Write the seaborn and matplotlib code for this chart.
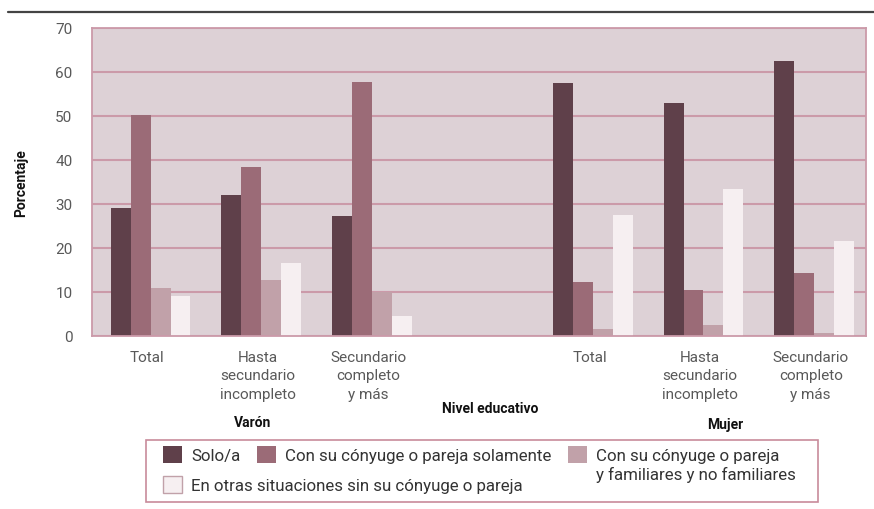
import matplotlib
matplotlib.use("Agg")
import matplotlib.pyplot as plt
import pandas as pd
import seaborn as sns
from matplotlib.lines import Line2D
from matplotlib.patches import Rectangle, Patch

# categorías del eje x (hay un hueco entre Varón y Mujer)
grupos = ["V_Total", "V_Hasta", "V_Sec", "hueco", "M_Total", "M_Hasta", "M_Sec"]
grupos_datos = ["V_Total", "V_Hasta", "V_Sec", "M_Total", "M_Hasta", "M_Sec"]
etiquetas = ["Total", "Hasta\nsecundario\nincompleto", "Secundario\ncompleto\ny más", "",
             "Total", "Hasta\nsecundario\nincompleto", "Secundario\ncompleto\ny más"]

series = ["Solo/a",
          "Con su cónyuge o pareja solamente",
          "Con su cónyuge o pareja y familiares y no familiares",
          "En otras situaciones sin su cónyuge o pareja"]

solo = [29.1, 32.0, 27.2, 57.6, 52.9, 62.6]
conyuge = [50.3, 38.4, 57.7, 12.3, 10.5, 14.3]
familiares = [11.0, 12.8, 9.9, 1.7, 2.6, 0.7]
otras = [9.0, 16.5, 4.6, 27.6, 33.5, 21.6]

colores = ["#5f404a", "#9b6b77", "#c1a1a9", "#f6eff1"]
rosa = "#cb9aa9"
fondo = "#ddd1d6"

filas = []
for serie, valores in zip(series, [solo, conyuge, familiares, otras]):
    for g, v in zip(grupos_datos, valores):
        filas.append({"grupo": g, "serie": serie, "valor": v})
df = pd.DataFrame(filas)

sns.set_style("white")
plt.rcParams["font.family"] = ["Roboto", "DejaVu Sans"]

fig = plt.figure(figsize=(8.74, 5.1), dpi=100)
ax = fig.add_axes([92 / 874, 1 - 337 / 510, 774 / 874, 308 / 510])

sns.barplot(data=df, x="grupo", y="valor", hue="serie", order=grupos, hue_order=series,
            palette=colores, width=0.72, gap=0, saturation=1, edgecolor="none",
            legend=False, ax=ax)

ax.set_facecolor(fondo)
ax.set_axisbelow(True)
ax.set_xlim(-0.53, 6.47)
ax.set_ylim(0, 70)
ax.set_yticks(range(0, 80, 10))
ax.grid(axis="y", color=rosa, lw=1.5)
ax.grid(axis="x", visible=False)
for s in ax.spines.values():
    s.set_color(rosa)
    s.set_linewidth(1.3)

# marcas en los límites de grupo, etiquetas en el centro
ax.set_xticks([i - 0.53 for i in range(8)])
ax.set_xticklabels([])
ax.set_xticks([i - 0.03 for i in range(7)], minor=True)
ax.set_xticklabels(etiquetas, minor=True, fontsize=11, color="#595959", linespacing=1.4)
ax.tick_params(axis="x", which="major", length=5, color=rosa, width=1.3)
ax.tick_params(axis="x", which="minor", length=0, pad=10)
ax.tick_params(axis="y", length=3, color=rosa, width=1.3, pad=11, labelsize=11, labelcolor="#595959")

ax.set_xlabel("Nivel educativo", fontsize=10, fontweight="bold", color="#111111")
ax.xaxis.set_label_coords(0.514, -0.21)
ax.set_ylabel("Porcentaje", fontsize=10, fontweight="bold", color="#111111")
ax.yaxis.set_label_coords(-0.082, 0.5)

ax.text(0.207, -0.258, "Varón", transform=ax.transAxes, ha="center", va="top",
        fontsize=10, fontweight="bold", color="#111111")
ax.text(0.818, -0.263, "Mujer", transform=ax.transAxes, ha="center", va="top",
        fontsize=10, fontweight="bold", color="#111111")

# línea superior
fig.add_artist(Line2D([8 / 874, 1], [1 - 13 / 510] * 2, color="#444444", lw=1.6,
                      transform=fig.transFigure))

# leyenda
handles = [Patch(facecolor=c, edgecolor=("#c1a1a9" if i == 3 else "none"))
           for i, c in enumerate(colores)]
kw = dict(frameon=False, fontsize=12.2, handlelength=1.1, handleheight=1.2,
          handletextpad=0.55, columnspacing=1.0, borderpad=0, borderaxespad=0,
          labelcolor="#333333")
leg1 = fig.legend(handles[:3], ["Solo/a", series[1], "Con su cónyuge o pareja"], ncol=3,
                  loc="upper left", bbox_to_anchor=(163 / 874, 1 - 447 / 510), **kw)
leg2 = fig.legend(handles[3:], [series[3]], loc="upper left",
                  bbox_to_anchor=(163 / 874, 1 - 477 / 510), **kw)
fig.canvas.draw()
bb = leg1.get_texts()[2].get_window_extent()
x0, y0 = fig.transFigure.inverted().transform((bb.x0, bb.y0 - 3))
fig.text(x0, y0, "y familiares y no familiares", fontsize=12.2, color="#333333", va="top")

fig.add_artist(Rectangle((146 / 874, 1 - 503 / 510), 672 / 874, 62 / 510, fill=False,
                         edgecolor="#c88b9b", lw=1.2, transform=fig.transFigure))

fig.savefig("out.png", dpi=100)
